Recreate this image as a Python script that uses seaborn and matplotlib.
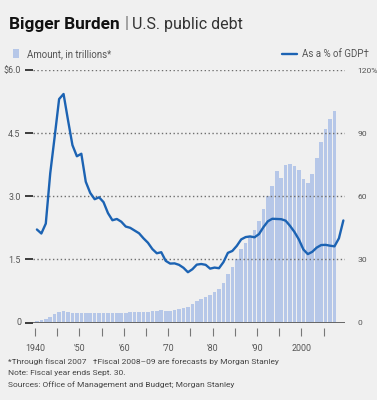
import matplotlib
matplotlib.use("Agg")
import matplotlib.pyplot as plt
import seaborn as sns
import numpy as np
import pandas as pd
from matplotlib.patches import Rectangle
from matplotlib.lines import Line2D

# ---------------- data ----------------
bar_years = list(range(1940, 2008))
amount_trillions = [
    0.043, 0.049, 0.077, 0.140, 0.204, 0.251, 0.262, 0.245, 0.224, 0.222,   # 1940-49
    0.224, 0.219, 0.220, 0.222, 0.229, 0.234, 0.228, 0.224, 0.228, 0.236,   # 1950-59
    0.237, 0.238, 0.248, 0.254, 0.257, 0.261, 0.264, 0.267, 0.290, 0.278,   # 1960-69
    0.283, 0.303, 0.322, 0.345, 0.370, 0.440, 0.500, 0.560, 0.615, 0.650,   # 1970-79
    0.715, 0.795, 0.930, 1.150, 1.320, 1.510, 1.750, 1.900, 2.050, 2.200,   # 1980-89
    2.420, 2.690, 3.010, 3.240, 3.600, 3.440, 3.740, 3.770, 3.720, 3.630,   # 1990-99
    3.420, 3.320, 3.540, 3.910, 4.290, 4.590, 4.830, 5.020,                 # 2000-07
]
line_years = list(range(1940, 2010))
pct_of_gdp = [
    44.2, 42.3, 47.0, 70.9, 88.3, 106.2, 108.6, 96.2, 84.3, 79.0,   # 1940-49
    80.2, 66.9, 61.6, 58.6, 59.5, 57.2, 52.0, 48.6, 49.2, 47.9,     # 1950-59
    45.6, 45.0, 43.7, 42.4, 40.0, 37.9, 34.9, 32.9, 33.4, 29.3,     # 1960-69
    28.0, 28.1, 27.4, 26.0, 23.9, 25.3, 27.5, 27.8, 27.4, 25.6,     # 1970-79
    26.1, 25.8, 28.7, 33.1, 34.0, 36.4, 39.5, 40.6, 40.9, 40.5,     # 1980-89
    42.0, 45.3, 48.1, 49.3, 49.2, 49.1, 48.4, 45.9, 43.0, 39.4,     # 1990-99
    34.7, 32.5, 33.6, 35.6, 36.8, 36.9, 36.5, 36.2, 40.0, 48.5,     # 2000-09
]
left_ticks = [0, 1.5, 3.0, 4.5, 6.0]
left_labels = ["", "1.5", "3.0", "4.5", "$6.0"]
right_ticks = [0, 30, 60, 90, 120]
right_labels = ["0", "30", "60", "90", "120%"]
minor_tick_years = list(range(1940, 2010, 5))
label_years = [1940, 1950, 1960, 1970, 1980, 1990, 2000]
year_labels = ["1940", "'50", "'60", "'70", "'80", "'90", "2000"]

title_bold = "Bigger Burden"
title_rest = "U.S. public debt"
legend_bar = "Amount, in trillions*"
legend_line = "As a % of GDP\u2020"
notes = [
    "*Through fiscal 2007   \u2020Fiscal 2008\u201309 are forecasts by Morgan Stanley",
    "Note: Fiscal year ends Sept. 30.",
    "Sources: Office of Management and Budget; Morgan Stanley",
]

# ---------------- style ----------------
sns.set_theme(style="white")
FAM = ['Roboto', 'DejaVu Sans']
plt.rcParams['font.family'] = FAM

BG = "#f0f0f0"
BAR = "#b6c7e8"
LINE = "#1c63b3"
TXT = "#555555"
TICKFS = 6.4

W, H = 377, 400
fx = lambda x: x / W
fy = lambda y: 1 - y / H

fig = plt.figure(figsize=(W / 100, H / 100), dpi=100, facecolor=BG)
ax_left, ax_right, ax_top, ax_bot = 33, 345, 70, 322.5
rect = [fx(ax_left), fy(ax_bot), (ax_right - ax_left) / W, (ax_bot - ax_top) / H]
ax = fig.add_axes(rect)
ax.set_facecolor(BG)

off = 0.43
df_bar = pd.DataFrame({"year": np.array(bar_years) + off, "amount": amount_trillions})
sns.barplot(data=df_bar, x="year", y="amount", native_scale=True, color=BAR,
            saturation=1, width=0.82, errorbar=None, linewidth=0, ax=ax, zorder=2)

xmin, xmax = 1939.55, 2009.8
ax.set_xlim(xmin, xmax)
ax.set_ylim(0, 6.0)

# gridlines (dotted)
for t in left_ticks[1:]:
    ax.axhline(t, color="#6f6f6f", lw=1.0, ls=(0, (1, 1.8)), zorder=3)
ax.axhline(0, color="#666666", lw=1.4, zorder=4)

for s in ax.spines.values():
    s.set_visible(False)
ax.set_xticks([])
ax.set_yticks(left_ticks)
ax.set_yticklabels(left_labels)
ax.tick_params(axis='y', left=False, labelsize=TICKFS, labelcolor=TXT, pad=3)
ax.set_xlabel("")
ax.set_ylabel("")
ax.text(-0.038, 0, "0", transform=ax.get_yaxis_transform(), ha="right", va="center",
        fontsize=TICKFS, color=TXT)

# line on twin axis
ax2 = ax.twinx()
df_line = pd.DataFrame({"year": np.array(line_years) + off, "pct": pct_of_gdp})
sns.lineplot(data=df_line, x="year", y="pct", color=LINE, lw=1.7, ax=ax2, zorder=5)
ax2.set_ylim(0, 120)
ax2.set_xlim(xmin, xmax)
ax2.set_xticks([])
ax2.set_yticks(right_ticks)
ax2.set_yticklabels(right_labels)
ax2.tick_params(axis='y', right=False, labelsize=6.1, labelcolor=TXT, pad=2.8)
for s in ax2.spines.values():
    s.set_visible(False)
ax2.set_xlabel("")
ax2.set_ylabel("")

# separate x-tick axis, a few pixels below the zero line (same x scale)
axt = fig.add_axes([rect[0], fy(328), rect[2], 0.0001])
axt.patch.set_visible(False)
for s in axt.spines.values():
    s.set_visible(False)
axt.set_xlim(xmin, xmax)
axt.set_yticks([])
axt.set_xticks(minor_tick_years)
axt.set_xticklabels([year_labels[label_years.index(y)] if y in label_years else "" for y in minor_tick_years])
axt.tick_params(axis='x', bottom=True, direction='out', length=5.5, width=0.8, color="#777777",
                labelsize=TICKFS, labelcolor=TXT, pad=6)

# ---------------- title ----------------
t1 = fig.text(fx(9), fy(28.5), title_bold, fontsize=12.4, fontweight="bold",
              color="#111111", va="baseline", ha="left")
fig.canvas.draw()
bb = t1.get_window_extent()
x_after = bb.x1 / W
fig.text(x_after + fx(5), fy(28.5), "|", fontsize=12, color="#777777", va="baseline", ha="left")
fig.text(x_after + fx(12), fy(28.5), title_rest, fontsize=11.5, color="#333333",
         va="baseline", ha="left")

# ---------------- legend ----------------
fig.patches.append(Rectangle((fx(12.5), fy(58)), 6 / W, 9 / H, transform=fig.transFigure,
                             facecolor=BAR, edgecolor="none"))
fig.text(fx(27), fy(54), legend_bar, fontsize=7, color=TXT, va="center", ha="left")
fig.lines.append(Line2D([fx(282), fx(297)], [fy(54), fy(54)], transform=fig.transFigure,
                        color=LINE, lw=1.7))
fig.text(fx(302), fy(54), legend_line, fontsize=7, color=TXT, va="center", ha="left")

# ---------------- notes ----------------
for i, n in enumerate(notes):
    fig.text(fx(8), fy(362 + 11.5 * i), n, fontsize=6.0, color="#444444", va="center", ha="left")

fig.savefig("out.png", dpi=100, facecolor=BG)
